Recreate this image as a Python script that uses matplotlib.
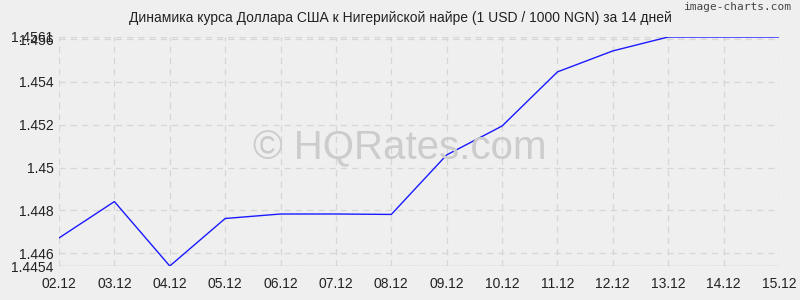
import matplotlib
matplotlib.use("Agg")
import matplotlib.pyplot as plt

plt.rcParams["font.family"] = ["Liberation Sans", "DejaVu Sans"]

dates = ["02.12", "03.12", "04.12", "05.12", "06.12", "07.12", "08.12",
         "09.12", "10.12", "11.12", "12.12", "13.12", "14.12", "15.12"]
rates = [1.44671, 1.44841, 1.4454, 1.44762, 1.44783, 1.44783, 1.44781,
         1.45059, 1.45194, 1.45447, 1.45545, 1.4561, 1.4561, 1.4561]
y_min = 1.4454
y_max = 1.4561
y_ticks = [1.446, 1.448, 1.45, 1.452, 1.454, 1.456]
y_labels = ["1.446", "1.448", "1.45", "1.452", "1.454", "1.456"]

bg = "#efefef"
fig = plt.figure(figsize=(8, 3), dpi=100, facecolor=bg)
ax = fig.add_axes([0.07375, 0.1133, 0.9, 0.7634], facecolor=bg)

x = list(range(len(dates)))
ax.plot(x, rates, color="#1a1aff", linewidth=1.0, zorder=3)

ax.set_xlim(0, len(dates) - 1)
ax.set_ylim(y_min, y_max)
ax.set_xticks(x, labels=dates)
ax.set_yticks(y_ticks + [y_min, y_max],
              labels=y_labels + [f"{y_min:.4f}", f"{y_max:.4f}"])
ax.tick_params(length=0, labelsize=10, colors="#222222", pad=4)
ax.tick_params(axis="x", pad=8)
ax.grid(True, color="#d6d6d6", linestyle=(0, (5, 4)), linewidth=0.9)
for s in ax.spines.values():
    s.set_visible(False)
ax.axhline(y_min, color="#cccccc", linewidth=1.0, zorder=2)

fig.text(0.5, 0.94, "Динамика курса Доллара США к Нигерийской найре (1 USD / 1000 NGN) за 14 дней",
         ha="center", va="center", fontsize=10, color="#222222")
fig.text(0.99, 0.975, "image-charts.com", ha="right", va="center",
         fontsize=8, color="#444444", family="DejaVu Sans Mono")
fig.text(0.5, 0.505, "© HQRates.com", ha="center", va="center",
         fontsize=29, color="#cccccc", zorder=0)

fig.savefig("out.png", dpi=100, facecolor=bg)
